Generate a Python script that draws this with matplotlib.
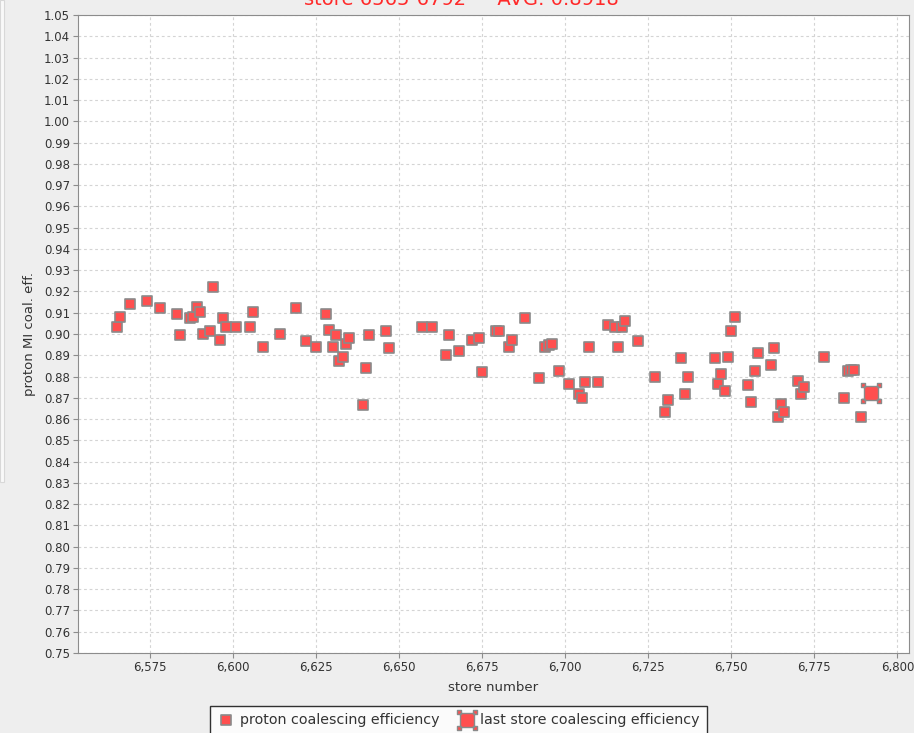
import numpy as np
import matplotlib
matplotlib.use('Agg')
import matplotlib.pyplot as plt
from matplotlib.path import Path
from matplotlib.patches import Rectangle
from matplotlib.ticker import MultipleLocator, FuncFormatter

# store numbers and proton coalescing efficiency
stores = [6565, 6566, 6569, 6574, 6578, 6583, 6584, 6587, 6588, 6589,
          6590, 6591, 6593, 6594, 6596, 6597, 6598, 6601, 6605, 6606,
          6609, 6614, 6619, 6622, 6625, 6628, 6629, 6630, 6631, 6632,
          6633, 6634, 6635, 6639, 6640, 6641, 6646, 6647, 6657, 6660,
          6664, 6665, 6668, 6672, 6674, 6675, 6679, 6680, 6683, 6684,
          6688, 6692, 6694, 6695, 6696, 6698, 6701, 6704, 6705, 6706,
          6707, 6710, 6713, 6715, 6716, 6717, 6718, 6722, 6727, 6730,
          6731, 6735, 6736, 6737, 6745, 6746, 6747, 6748, 6749, 6750,
          6751, 6755, 6756, 6757, 6758, 6762, 6763, 6764, 6765, 6766,
          6770, 6771, 6772, 6778, 6784, 6785, 6786, 6787, 6789]
eff = [0.9032, 0.9081, 0.9141, 0.9154, 0.9123, 0.9095, 0.8994, 0.9074, 0.9081, 0.9129,
       0.9105, 0.9001, 0.9013, 0.9221, 0.8971, 0.9074, 0.9032, 0.9032, 0.9032, 0.9105,
       0.8940, 0.9001, 0.9123, 0.8965, 0.8940, 0.9093, 0.9020, 0.8940, 0.8994, 0.8873,
       0.8891, 0.8951, 0.8982, 0.8665, 0.8842, 0.8994, 0.9013, 0.8933, 0.9032, 0.9032,
       0.8903, 0.8994, 0.8921, 0.8971, 0.8982, 0.8823, 0.9013, 0.9013, 0.8940, 0.8971,
       0.9074, 0.8793, 0.8940, 0.8949, 0.8954, 0.8824, 0.8763, 0.8720, 0.8701, 0.8776,
       0.8940, 0.8776, 0.9044, 0.9032, 0.8940, 0.9032, 0.9063, 0.8965, 0.8798, 0.8634,
       0.8690, 0.8885, 0.8720, 0.8800, 0.8885, 0.8763, 0.8813, 0.8732, 0.8891, 0.9013,
       0.9081, 0.8762, 0.8682, 0.8824, 0.8910, 0.8854, 0.8932, 0.8610, 0.8670, 0.8634,
       0.8781, 0.8718, 0.8751, 0.8891, 0.8701, 0.8824, 0.8829, 0.8829, 0.8610]
last_store = [6792]
last_eff = [0.8721]

first_store = stores[0]
avg = np.mean(eff + last_eff)

def last_store_marker():
  # big square with four little squares on its corners
  big = Path.unit_rectangle().transformed(
    matplotlib.transforms.Affine2D().translate(-0.5, -0.5).scale(13))
  parts = [big]
  for sx in (-1, 1):
    for sy in (-1, 1):
      small = Path.unit_rectangle().transformed(
        matplotlib.transforms.Affine2D().translate(-0.5, -0.5).scale(4).translate(sx * 7.5, sy * 7.5))
      parts.append(small)
  return Path.make_compound_path(*parts)

fig = plt.figure(figsize=(9.14, 7.33), dpi=100, facecolor='#eeeeee')
ax = fig.add_axes([77.7 / 914, 1 - 653 / 733, (909 - 77.7) / 914, (653 - 15) / 733])
ax.set_facecolor('white')

red = '#ff4f4f'
edge = '#8a8a8a'
ax.scatter(stores, eff, marker='s', s=52, facecolor=red, edgecolor=edge,
           linewidth=1.2, zorder=3, label='proton coalescing efficiency')
ax.scatter(last_store, last_eff, marker=last_store_marker(), s=210, facecolor=red,
           edgecolor=edge, linewidth=1.0, zorder=4, label='last store coalescing efficiency')

ax.set_xlim(6553.2, 6803.5)
ax.set_ylim(0.75, 1.05)
ax.xaxis.set_major_locator(MultipleLocator(25))
ax.yaxis.set_major_locator(MultipleLocator(0.01))
ax.xaxis.set_major_formatter(FuncFormatter(lambda v, p: '{:,}'.format(int(round(v)))))
ax.yaxis.set_major_formatter(FuncFormatter(lambda v, p: '%.2f' % v))

ax.grid(True, color='#d4d4d4', linestyle=(0, (2.5, 2.5)), linewidth=0.8)
ax.set_axisbelow(True)
for s in ax.spines.values():
  s.set_color('#8c8c8c')
ax.tick_params(direction='out', length=3.5, color='#8c8c8c', labelsize=8.5,
               labelcolor='#333333', pad=2)

ax.set_xlabel('store number', fontsize=9.5, color='#333333', labelpad=5)
ax.set_ylabel('proton MI coal. eff.', fontsize=9.5, color='#333333', labelpad=6)

# title mostly cut off at the top of the picture
fig.text(0.505, 1 - 5 / 733, 'store %d-%d     AVG: %.4f' % (first_store, last_store[0], avg),
         color='#ff2a2a', fontsize=14, ha='center', va='baseline')

# lighter strip down the left edge
fig.patches.append(Rectangle((0, 1 - 482 / 733), 4 / 914, 482 / 733, transform=fig.transFigure,
                             facecolor='#f9f9f9', edgecolor='#d8d8d8', linewidth=0.8))

leg = fig.legend(loc='upper left', bbox_to_anchor=(210 / 914, 1 - 706 / 733), ncol=2,
                 fontsize=10.3, frameon=True, fancybox=False, borderpad=0.5,
                 handletextpad=0.3, columnspacing=1.25, handlelength=1.3,
                 borderaxespad=0)
leg.get_frame().set_edgecolor('black')
leg.get_frame().set_linewidth(1.0)
for t in leg.get_texts():
  t.set_color('#333333')

fig.savefig('out.png', dpi=100, facecolor=fig.get_facecolor())
plt.close()
